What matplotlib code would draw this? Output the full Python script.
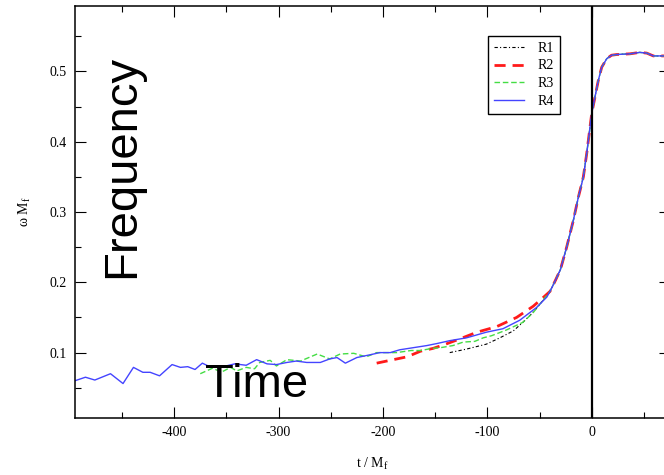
import matplotlib
matplotlib.use("Agg")
import matplotlib.pyplot as plt
from matplotlib.ticker import MultipleLocator
import numpy as np

plt.rcParams["axes.unicode_minus"] = False

# ---- data ----
# shared merger/ringdown part (all four runs overlap here)
t_tail = [-40, -35, -30, -24, -17.6, -12.8, -9.6, -8, -4.8, -1.6, 0, 3.2, 6.3, 9.6,
          14.4, 19, 24, 36.7, 46, 52.7, 59, 65.4, 70, 75]
w_tail = [0.187, 0.202, 0.218, 0.250, 0.288, 0.321, 0.340, 0.350, 0.383, 0.421, 0.440,
          0.464, 0.487, 0.506, 0.518, 0.523, 0.524, 0.525, 0.527, 0.526, 0.522, 0.522,
          0.522, 0.524]

t_r1 = [-136, -120, -101, -88, -75, -66, -59, -50]
w_r1 = [0.100, 0.105, 0.112, 0.121, 0.131, 0.143, 0.153, 0.168]

t_r2 = [-206, -190, -177, -164, -152, -140, -129, -110, -91, -72, -56, -46]
w_r2 = [0.085, 0.090, 0.094, 0.102, 0.106, 0.112, 0.118, 0.129, 0.137, 0.150, 0.166, 0.179]

t_r3 = [-375, -372, -363, -355, -346, -340, -331, -323, -318, -308, -302, -292, -279,
        -263, -251, -241, -228, -216, -206, -187, -173, -164, -153, -145, -133, -123,
        -112, -104, -96, -82, -66, -56, -47]
w_r3 = [0.070, 0.072, 0.078, 0.072, 0.079, 0.074, 0.079, 0.077, 0.086, 0.089, 0.081,
        0.090, 0.088, 0.098, 0.091, 0.098, 0.099, 0.094, 0.100, 0.100, 0.103, 0.103,
        0.106, 0.107, 0.110, 0.115, 0.116, 0.121, 0.124, 0.132, 0.143, 0.157, 0.174]

t_r4 = [-495, -485, -476, -461, -449, -439, -430, -423, -414, -402, -394, -387, -380,
        -373, -366, -356, -342, -331, -321, -311, -302, -292, -283, -273, -260, -251,
        -244, -236, -225, -212, -203, -193, -184, -171, -158, -148, -136, -120, -101,
        -85, -69, -53, -43]
w_r4 = [0.060, 0.065, 0.061, 0.070, 0.056, 0.079, 0.072, 0.072, 0.067, 0.083, 0.079,
        0.080, 0.076, 0.085, 0.080, 0.079, 0.084, 0.082, 0.090, 0.084, 0.083, 0.086,
        0.088, 0.086, 0.086, 0.091, 0.093, 0.085, 0.093, 0.097, 0.100, 0.100, 0.104,
        0.107, 0.110, 0.113, 0.117, 0.121, 0.129, 0.134, 0.146, 0.164, 0.179]

labels = ["R1", "R2", "R3", "R4"]

# ---- figure ----
fig = plt.figure(figsize=(6.64, 4.75), dpi=100)
ax = fig.add_axes([75 / 664, 57 / 475, 595 / 664, 412 / 475])

serif = ["Liberation Serif", "DejaVu Serif"]
plt.rcParams["mathtext.fontset"] = "custom"
plt.rcParams["mathtext.rm"] = "Liberation Serif"

styles = [
    dict(color="black", lw=0.8, ls=(0, (3, 2, 1, 2))),
    dict(color="#ff1a1a", lw=2.0, ls=(0, (4, 2.5))),
    dict(color="#44dd44", lw=1.0, ls=(0, (4, 2))),
    dict(color="#4444ff", lw=1.0, ls="-"),
]
series = [(t_r1, w_r1), (t_r2, w_r2), (t_r3, w_r3), (t_r4, w_r4)]
for (t, w), lab, st in zip(series, labels, styles):
    ax.plot(list(t) + t_tail, list(w) + w_tail, label=lab, **st)

ax.axvline(0, color="black", lw=1.6)

ax.set_xlim(-495, 75)
ax.set_ylim(0.007, 0.593)
ax.xaxis.set_major_locator(MultipleLocator(100))
ax.xaxis.set_minor_locator(MultipleLocator(50))
ax.yaxis.set_major_locator(MultipleLocator(0.1))
ax.yaxis.set_minor_locator(MultipleLocator(0.05))
ax.tick_params(which="both", direction="in", top=True, right=True, width=0.8)
ax.tick_params(which="major", length=8, pad=6)
ax.tick_params(which="minor", length=4.5)
for lbl in ax.get_xticklabels() + ax.get_yticklabels():
    lbl.set_fontfamily(serif)
    lbl.set_fontsize(10)
for s in ax.spines.values():
    s.set_linewidth(1.1)

ax.set_xlabel(r"t / M$_\mathregular{f}$", family=serif, fontsize=10, labelpad=12)
ax.set_ylabel(r"ω M$_\mathregular{f}$", family=serif, fontsize=10, labelpad=12)

leg = ax.legend(loc="upper left", bbox_to_anchor=((488 - 75) / 595, (418 - 36) / 412),
                prop={"family": serif, "size": 10}, frameon=True, fancybox=False,
                edgecolor="black", framealpha=1, handlelength=2.2, handletextpad=1.0,
                labelspacing=0.35, borderpad=0.4, borderaxespad=0)
leg.get_frame().set_linewidth(1.0)

fig.text(122 / 664, 1 - 166 / 475, "Frequency", rotation=90, ha="center", va="center",
         family=["Liberation Sans", "DejaVu Sans"], fontsize=34)
fig.text(205 / 664, 1 - 397 / 475, "Time", ha="left", va="baseline",
         family=["Liberation Sans", "DejaVu Sans"], fontsize=34)

fig.savefig("out.png", dpi=100)
